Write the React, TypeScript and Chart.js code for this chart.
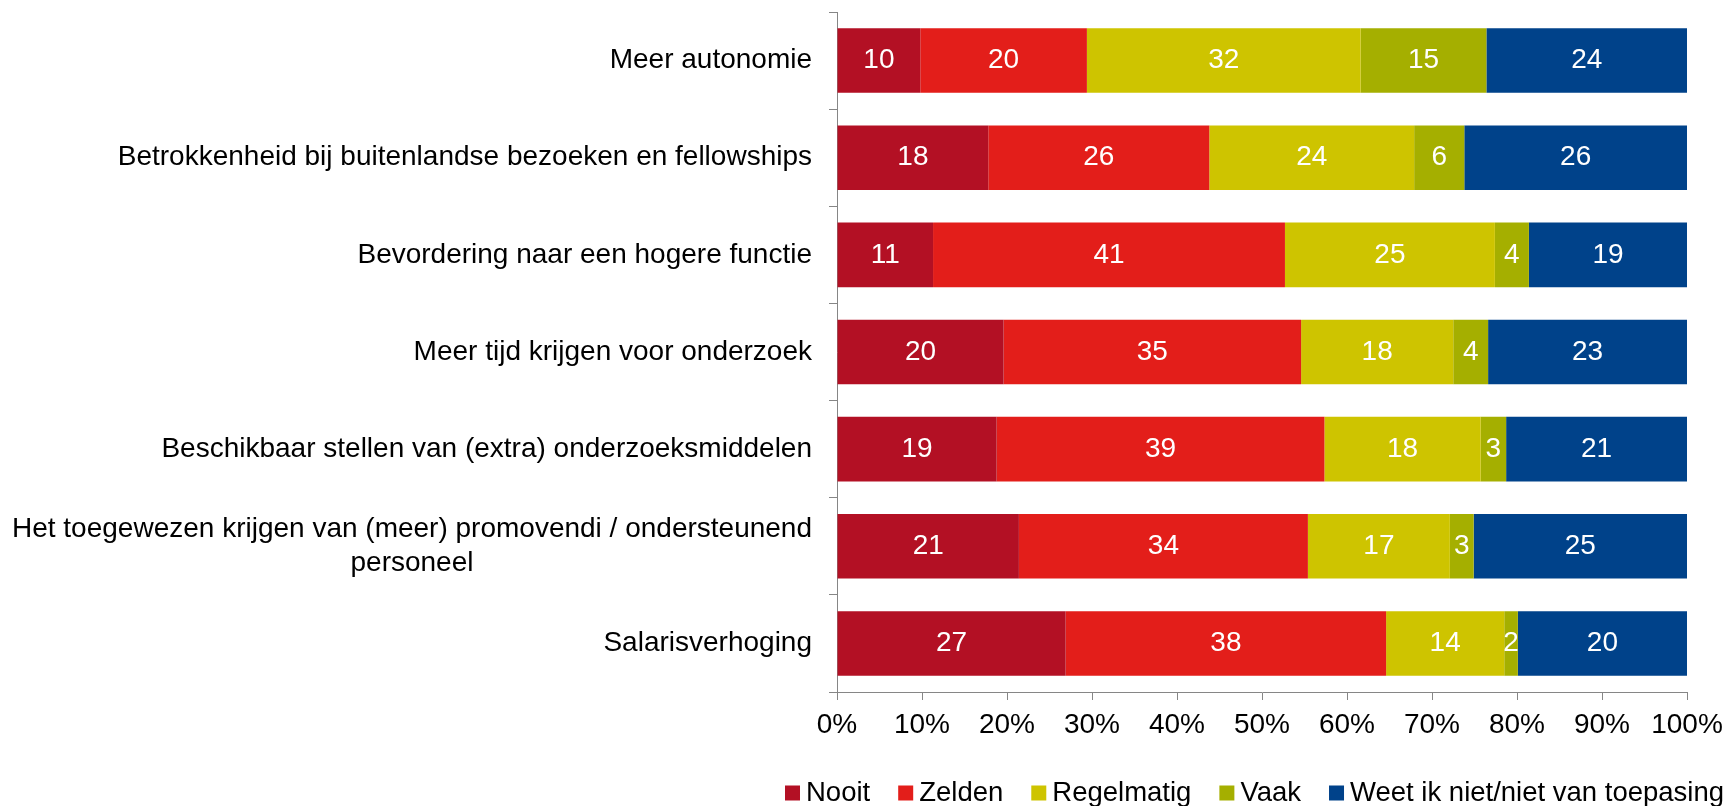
import React, { useEffect, useRef } from 'react';
import { Chart, registerables } from 'chart.js';

Chart.register(...registerables);

// ---- Data ----
const categories: (string | string[])[] = [
  'Meer autonomie',
  'Betrokkenheid bij buitenlandse bezoeken en fellowships',
  'Bevordering naar een hogere functie',
  'Meer tijd krijgen voor onderzoek',
  'Beschikbaar stellen van (extra) onderzoeksmiddelen',
  ['Het toegewezen krijgen van (meer) promovendi / ondersteunend', 'personeel'],
  'Salarisverhoging',
];

const seriesNames = ['Nooit', 'Zelden', 'Regelmatig', 'Vaak', 'Weet ik niet/niet van toepasing'];

// Percentages per category (labels show rounded values)
const nooit = [9.8, 17.8, 11.3, 19.6, 18.8, 21.4, 26.9];
const zelden = [19.6, 26.0, 41.4, 35.0, 38.6, 34.0, 37.7];
const regelmatig = [32.2, 24.1, 24.7, 17.9, 18.4, 16.7, 13.9];
const vaak = [14.8, 5.9, 4.0, 4.1, 3.0, 2.8, 1.6];
const weetNiet = [23.6, 26.2, 18.6, 23.4, 21.3, 25.1, 19.9];

const xTickValues = [0, 10, 20, 30, 40, 50, 60, 70, 80, 90, 100];

// ---- Styles ----
const colors = ['#B31024', '#E31E1A', '#CEC400', '#A5AF00', '#00428A'];
const FONT_FAMILY = '"Liberation Sans", Arial, Helvetica, sans-serif';
const FONT_SIZE = 28;
const LEGEND_FONT_SIZE = 27.5;
const AXIS_COLOR = '#868686';

const W = 1732;
const H = 806;
const PLOT_LEFT = 837;
const PLOT_RIGHT = 1687;
const PLOT_TOP = 12;
const PLOT_BOTTOM = 692;
const LABEL_RIGHT = 812;
const LEGEND_Y = 793;
const LEGEND_X = 785;
const LEGEND_BOX = 15;
const LEGEND_BOX_GAP = 6;
const LEGEND_ITEM_GAP = 28;

const allSeries = [nooit, zelden, regelmatig, vaak, weetNiet];
const rowTotals = categories.map((_, i) => allSeries.reduce((s, arr) => s + arr[i], 0));

const font = `${FONT_SIZE}px ${FONT_FAMILY}`;
const legendFont = `${LEGEND_FONT_SIZE}px ${FONT_FAMILY}`;

const valueLabelPlugin = {
  id: 'valueLabels',
  afterDatasetsDraw(chart: any) {
    const ctx = chart.ctx;
    ctx.save();
    ctx.font = font;
    ctx.fillStyle = '#FFFFFF';
    ctx.textAlign = 'center';
    ctx.textBaseline = 'middle';
    chart.data.datasets.forEach((ds: any, di: number) => {
      const meta = chart.getDatasetMeta(di);
      meta.data.forEach((el: any, i: number) => {
        const p = el.getProps(['x', 'y', 'base'], true);
        ctx.fillText(String(Math.round(allSeries[di][i])), (p.x + p.base) / 2, p.y);
      });
    });
    ctx.restore();
  },
};

const categoryLabelPlugin = {
  id: 'categoryLabels',
  afterDraw(chart: any) {
    const ctx = chart.ctx;
    const yScale = chart.scales.y;
    const lineH = FONT_SIZE * 1.2;
    ctx.save();
    ctx.font = font;
    ctx.fillStyle = '#000000';
    ctx.textBaseline = 'middle';
    categories.forEach((lab, i) => {
      const yc = yScale.getPixelForValue(i);
      const lines = Array.isArray(lab) ? lab : [lab];
      if (lines.length === 1) {
        ctx.textAlign = 'right';
        ctx.fillText(lines[0], LABEL_RIGHT, yc);
      } else {
        const maxW = Math.max(...lines.map((l) => ctx.measureText(l).width));
        const cx = LABEL_RIGHT - maxW / 2;
        ctx.textAlign = 'center';
        lines.forEach((l, k) => {
          ctx.fillText(l, cx, yc + (k - (lines.length - 1) / 2) * lineH);
        });
      }
    });
    ctx.restore();
  },
};

const legendPlugin = {
  id: 'customLegend',
  afterDraw(chart: any) {
    const ctx = chart.ctx;
    ctx.save();
    ctx.font = legendFont;
    ctx.textBaseline = 'middle';
    ctx.textAlign = 'left';
    let x = LEGEND_X;
    seriesNames.forEach((name, k) => {
      ctx.fillStyle = colors[k];
      ctx.fillRect(x, LEGEND_Y - LEGEND_BOX / 2, LEGEND_BOX, LEGEND_BOX);
      x += LEGEND_BOX + LEGEND_BOX_GAP;
      ctx.fillStyle = '#000000';
      ctx.fillText(name, x, LEGEND_Y);
      x += ctx.measureText(name).width + LEGEND_ITEM_GAP;
    });
    ctx.restore();
  },
};

export default function App() {
  const canvasRef = useRef<HTMLCanvasElement | null>(null);

  useEffect(() => {
    if (!canvasRef.current) return;
    Chart.defaults.font.family = FONT_FAMILY;
    const chart = new Chart(canvasRef.current, {
      type: 'bar',
      data: {
        labels: categories.map((c) => (Array.isArray(c) ? c.join(' ') : c)),
        datasets: allSeries.map((arr, k) => ({
          label: seriesNames[k],
          data: arr.map((v, i) => (v / rowTotals[i]) * 100),
          backgroundColor: colors[k],
          borderWidth: 0,
          barPercentage: 0.665,
          categoryPercentage: 1,
        })),
      },
      options: {
        indexAxis: 'y',
        animation: false,
        responsive: false,
        maintainAspectRatio: false,
        layout: { padding: { top: PLOT_TOP, right: W - PLOT_RIGHT, bottom: 0, left: 0 } },
        plugins: {
          legend: { display: false },
          tooltip: { enabled: false },
        },
        scales: {
          x: {
            stacked: true,
            min: 0,
            max: 100,
            afterBuildTicks: (scale: any) => {
              scale.ticks = xTickValues.map((v) => ({ value: v }));
            },
            ticks: {
              callback: (v: any) => `${v}%`,
              font: { size: FONT_SIZE, family: FONT_FAMILY },
              color: '#000000',
              padding: 8,
              maxRotation: 0,
              autoSkip: false,
            },
            grid: {
              drawOnChartArea: false,
              drawTicks: true,
              tickLength: 8,
              color: AXIS_COLOR,
            },
            border: { color: AXIS_COLOR, width: 1 },
            afterFit: (scale: any) => {
              scale.height = H - PLOT_BOTTOM;
            },
          },
          y: {
            stacked: true,
            ticks: { display: false },
            grid: {
              drawOnChartArea: false,
              drawTicks: true,
              tickLength: 8,
              offset: true,
              color: AXIS_COLOR,
            },
            border: { color: AXIS_COLOR, width: 1 },
            afterFit: (scale: any) => {
              scale.width = PLOT_LEFT;
            },
          },
        },
      } as any,
      plugins: [valueLabelPlugin, categoryLabelPlugin, legendPlugin],
    });
    return () => chart.destroy();
  }, []);

  return (
    <div style={{ position: 'absolute', left: 0, top: 0, width: W, height: H, background: '#fff' }}>
      <canvas ref={canvasRef} width={W} height={H} style={{ display: 'block', width: W, height: H }} />
    </div>
  );
}
